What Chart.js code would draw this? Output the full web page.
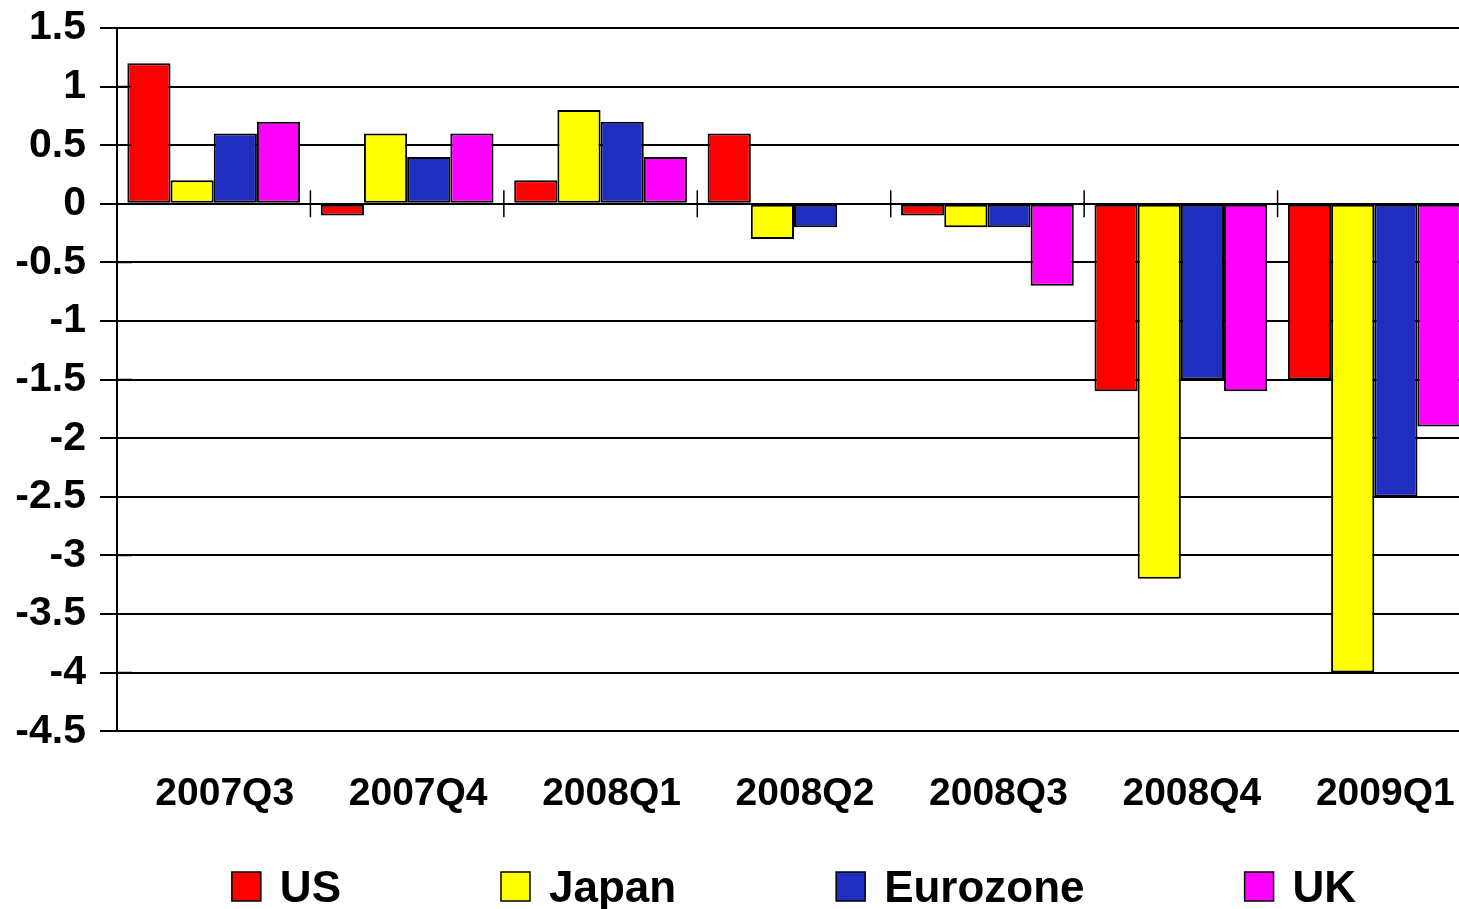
<!DOCTYPE html>
<html><head><meta charset="utf-8">
<script src="https://cdn.jsdelivr.net/npm/chart.js@4.4.1/dist/chart.umd.min.js"></script>
<style>html,body{margin:0;padding:0;background:#fff;overflow:hidden;width:1459px;height:909px}#wrap{width:1471px;height:909px;position:relative}</style>
</head><body><div id="wrap"><canvas id="c"></canvas></div>
<script>
const categories = ['2007Q3','2007Q4','2008Q1','2008Q2','2008Q3','2008Q4','2009Q1'];
const usValues = [1.2, -0.1, 0.2, 0.6, -0.1, -1.6, -1.5];
const japanValues = [0.2, 0.6, 0.8, -0.3, -0.2, -3.2, -4.0];
const eurozoneValues = [0.6, 0.4, 0.7, -0.2, -0.2, -1.5, -2.5];
const ukValues = [0.7, 0.6, 0.4, 0, -0.7, -1.6, -1.9];
const seriesNames = ['US', 'Japan', 'Eurozone', 'UK'];
const seriesColors = ['#ff0000', '#ffff00', '#1f2ebf', '#ff00ff'];
const yMin = -4.5, yMax = 1.5, yStep = 0.5;

const FONT = '"Liberation Sans", Arial, sans-serif';
const seriesValues = [usValues, japanValues, eurozoneValues, ukValues];

const zeroAxisTicks = {
  id: 'zeroAxisTicks',
  afterDatasetsDraw(chart) {
    const {ctx, chartArea} = chart;
    const xs = chart.scales.x, ys = chart.scales.y;
    const y0 = ys.getPixelForValue(0);
    const half = (xs.getPixelForValue(1) - xs.getPixelForValue(0)) / 2;
    ctx.save();
    ctx.strokeStyle = '#000';
    ctx.lineWidth = 1.5;
    ctx.beginPath();
    for (let i = 0; i < categories.length; i++) {
      const bx = xs.getPixelForValue(i) + half;
      ctx.moveTo(bx, y0 - 13.5);
      ctx.lineTo(bx, y0 + 13.5);
    }
    ys.ticks.forEach(t => {
      const py = ys.getPixelForValue(t.value);
      ctx.moveTo(chartArea.left, py);
      ctx.lineTo(chartArea.left + 15, py);
    });
    ctx.stroke();
    ctx.restore();
  }
};

const customLegend = {
  id: 'customLegend',
  afterDraw(chart) {
    const {ctx, chartArea} = chart;
    ctx.save();
    ctx.font = 'bold 44px ' + FONT;
    const box = 29, boxGap = 19, itemGap = 160;
    const widths = seriesNames.map(n => box + boxGap + ctx.measureText(n).width);
    const total = widths.reduce((a, b) => a + b, 0) + itemGap * (seriesNames.length - 1);
    let x = (chartArea.left + chartArea.right) / 2 - total / 2;
    const boxTop = 872, baseline = 902;
    seriesNames.forEach((n, i) => {
      ctx.fillStyle = seriesColors[i];
      ctx.fillRect(x, boxTop, box, box);
      ctx.strokeStyle = '#000';
      ctx.lineWidth = 1.5;
      ctx.strokeRect(x, boxTop, box, box);
      ctx.fillStyle = '#000';
      ctx.textBaseline = 'alphabetic';
      ctx.textAlign = 'left';
      ctx.fillText(n, x + box + boxGap, baseline);
      x += widths[i] + itemGap;
    });
    ctx.restore();
  }
};

new Chart(document.getElementById('c'), {
  type: 'bar',
  data: {
    labels: categories,
    datasets: seriesNames.map((n, i) => ({
      label: n,
      data: seriesValues[i],
      backgroundColor: seriesColors[i],
      borderColor: '#000',
      borderWidth: 2,
      borderSkipped: false,
      barPercentage: 1,
      categoryPercentage: 0.893
    }))
  },
  options: {
    responsive: true,
    maintainAspectRatio: false,
    animation: false,
    layout: { padding: { top: 28, right: 0, bottom: 91, left: 0 } },
    plugins: { legend: { display: false }, tooltip: { enabled: false } },
    scales: {
      x: {
        grid: { display: true, drawOnChartArea: false, drawTicks: true, tickLength: 40, tickColor: 'rgba(0,0,0,0)' },
        border: { display: true, color: '#000', width: 2 },
        ticks: { color: '#000', font: { family: FONT, size: 39, weight: 'bold' }, padding: 0, labelOffset: 11, maxRotation: 0, autoSkip: false }
      },
      y: {
        min: yMin, max: yMax,
        afterFit(scale) { scale.width = 117; scale.paddingTop = 0; scale.paddingBottom = 0; },
        grid: { color: '#000', lineWidth: 2, tickLength: 17, drawTicks: true, tickColor: '#000' },
        border: { display: true, color: '#000', width: 2 },
        ticks: {
          stepSize: yStep, color: '#000', padding: 14,
          font: { family: FONT, size: 41, weight: 'bold' },
          callback: v => String(Math.round(v * 10) / 10)
        }
      }
    }
  },
  plugins: [zeroAxisTicks, customLegend]
});
</script></body></html>
